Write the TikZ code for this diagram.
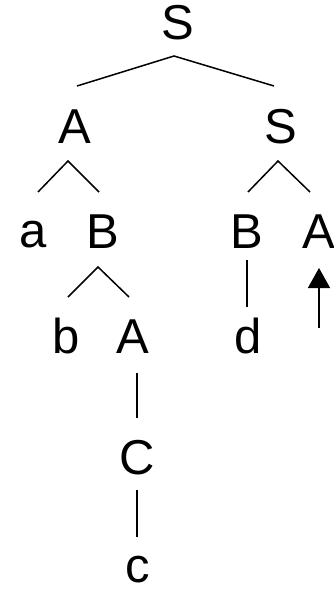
\documentclass[tikz,border=0pt]{standalone}
\usepackage{fontspec}
\setmainfont{Liberation Sans}
\usetikzlibrary{arrows.meta}
\begin{document}
\begin{tikzpicture}[x=1pt,y=-1pt,
  lbl/.style={anchor=base,inner sep=0pt,font=\fontsize{49}{55}\selectfont},
  edge/.style={line width=1.5pt},
  uparrow/.style={line width=1.5pt,-{Triangle[width=22pt,length=20pt]}}]
\useasboundingbox (0,0) rectangle (333,589);
\node[lbl] (S1) at (178,39.5) {S};
\node[lbl] (A1) at (75,143) {A};
\node[lbl] (S2) at (281,143) {S};
\node[lbl] (a)  at (33,247) {a};
\node[lbl] (B1) at (103,248) {B};
\node[lbl] (B2) at (247,248) {B};
\node[lbl] (A2) at (319,248) {A};
\node[lbl] (b)  at (66,353) {b};
\node[lbl] (A3) at (133,353) {A};
\node[lbl] (d)  at (248,353) {d};
\node[lbl] (C)  at (137,474) {C};
\node[lbl] (c)  at (138,582) {c};
\coordinate (tail) at (319,328);
% edges
\draw[edge] ([shift={(2,-57)}]A1.base) -- ([shift={(-4,16.5)}]S1.base) -- ([shift={(-7,-57)}]S2.base);
\draw[edge] ([shift={(5,-55)}]a.base) -- ([shift={(-7,18)}]A1.base) -- ([shift={(-4,-56)}]B1.base);
\draw[edge] ([shift={(1,-56)}]B2.base) -- ([shift={(-3,18)}]S2.base) -- ([shift={(-9,-56)}]A2.base);
\draw[edge] ([shift={(2,-56)}]b.base) -- ([shift={(-5,19)}]B1.base) -- ([shift={(-4,-56)}]A3.base);
\draw[edge] ([shift={(0,12)}]B2.base) -- ([shift={(-1,-46)}]d.base);
\draw[edge] ([shift={(4,20)}]A3.base) -- ([shift={(0,-56)}]C.base);
\draw[edge] ([shift={(0,16)}]C.base) -- ([shift={(-1,-45)}]c.base);
\draw[uparrow] (tail) -- ([shift={(0,20)}]A2.base);
\end{tikzpicture}
\end{document}
